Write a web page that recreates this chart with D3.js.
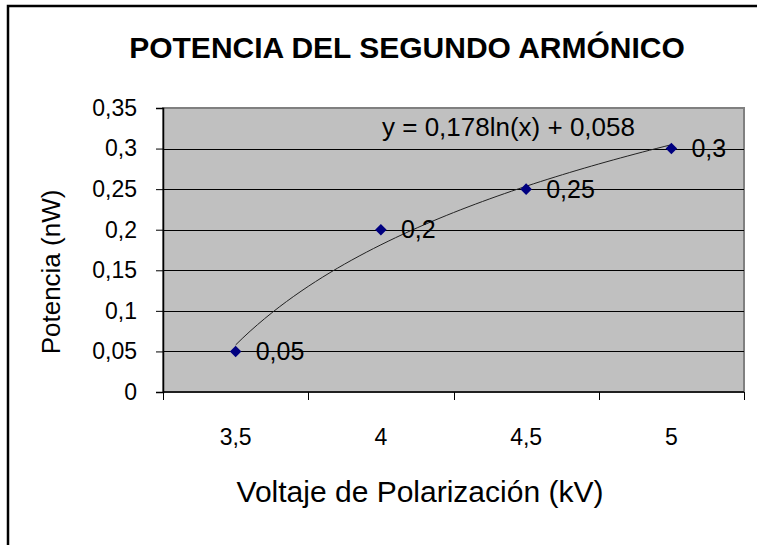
<!DOCTYPE html>
<html>
<head>
<meta charset="utf-8">
<script src="https://cdn.jsdelivr.net/npm/d3@7"></script>
<style>
  html, body { margin: 0; background: #fff; overflow: hidden; }
  svg { display: block; }
  text { font-family: "Liberation Sans", Arial, sans-serif; fill: #000; }
</style>
</head>
<body>
<div id="chart"></div>
<script>
var categories = ['3,5', '4', '4,5', '5'];
var potencia = [0.05, 0.2, 0.25, 0.3];
var yTicks = [0, 0.05, 0.1, 0.15, 0.2, 0.25, 0.3, 0.35];
var trendA = 0.178, trendB = 0.058;

var W = 757, H = 545;
var plot = {left: 163, right: 744, top: 108, bottom: 392};

var svg = d3.select('#chart').append('svg')
    .attr('width', W)
    .attr('height', H);

// chart frame: only the top and left edges fall inside the picture
svg.append('path')
  .attr('d', 'M8,' + H + 'V6H' + W)
  .attr('fill', 'none')
  .attr('stroke', '#000')
  .attr('stroke-width', 2.5);

var x = d3.scaleBand().domain(categories).range([plot.left, plot.right]);
var y = d3.scaleLinear().domain([0, 0.35]).range([plot.bottom, plot.top]);
var fmt = function (v) { return String(v).replace('.', ','); };

// plot area
svg.append('rect')
  .attr('x', plot.left).attr('y', plot.top)
  .attr('width', plot.right - plot.left)
  .attr('height', plot.bottom - plot.top)
  .attr('fill', '#c0c0c0')
  .attr('stroke', '#808080')
  .attr('stroke-width', 2);

// gridlines
svg.append('g')
  .selectAll('line')
  .data(yTicks.slice(1, -1))
  .enter().append('line')
  .attr('x1', plot.left).attr('x2', plot.right)
  .attr('y1', function (d) { return Math.round(y(d)) + 0.5; })
  .attr('y2', function (d) { return Math.round(y(d)) + 0.5; })
  .attr('stroke', '#000')
  .attr('stroke-width', 1);

// Y axis
var yAxis = d3.axisLeft(y).tickValues(yTicks).tickSize(7).tickPadding(19).tickFormat(fmt);
var gy = svg.append('g')
  .attr('transform', 'translate(' + plot.left + ',0)')
  .call(yAxis);
gy.select('.domain').attr('stroke', '#000').attr('stroke-width', 1.5);
gy.selectAll('.tick line').attr('stroke', '#000');
gy.selectAll('text').style('font-size', '23px').attr('fill', '#000');

// X axis: ticks between categories, labels centred
var gx = svg.append('g')
  .attr('transform', 'translate(0,' + plot.bottom + ')');
gx.append('line')
  .attr('x1', plot.left).attr('x2', plot.right)
  .attr('stroke', '#000').attr('stroke-width', 1.5);
var edges = categories.map(function (c) { return x(c); }).concat([plot.right]);
gx.selectAll('.xt')
  .data(edges)
  .enter().append('line')
  .attr('class', 'xt')
  .attr('x1', function (d) { return Math.round(d) + 0.5; })
  .attr('x2', function (d) { return Math.round(d) + 0.5; })
  .attr('y1', 0).attr('y2', 8)
  .attr('stroke', '#000');
gx.selectAll('.xl')
  .data(categories)
  .enter().append('text')
  .attr('class', 'xl')
  .attr('x', function (d) { return x(d) + x.bandwidth() / 2; })
  .attr('y', 53)
  .attr('text-anchor', 'middle')
  .style('font-size', '23px')
  .text(function (d) { return d; });

// logarithmic trendline, x = category index (1..n)
var trend = d3.range(1, categories.length + 0.001, 0.05).map(function (i) {
  return [x(categories[0]) + x.bandwidth() / 2 + (i - 1) * x.step(), trendA * Math.log(i) + trendB];
});
svg.append('path')
  .datum(trend)
  .attr('fill', 'none')
  .attr('stroke', '#222')
  .attr('stroke-width', 1)
  .attr('d', d3.line()
    .x(function (d) { return d[0]; })
    .y(function (d) { return y(d[1]); }));

// points
var pts = svg.append('g')
  .selectAll('g')
  .data(potencia)
  .enter().append('g')
  .attr('transform', function (d, i) {
    return 'translate(' + (x(categories[i]) + x.bandwidth() / 2) + ',' + y(d) + ')';
  });
pts.append('path')
  .attr('d', d3.symbol().type(d3.symbolDiamond2).size(85))
  .attr('fill', '#000080');
pts.append('text')
  .attr('x', 20)
  .attr('dy', '0.35em')
  .style('font-size', '25px')
  .text(function (d) { return fmt(d); });

// trendline equation
svg.append('text')
  .attr('x', 382).attr('y', 136)
  .style('font-size', '26px')
  .text('y = 0,178ln(x) + 0,058');

// titles
svg.append('text')
  .attr('x', 407).attr('y', 58)
  .attr('text-anchor', 'middle')
  .style('font-size', '30px')
  .style('font-weight', 'bold')
  .text('POTENCIA DEL SEGUNDO ARMÓNICO');

svg.append('text')
  .attr('x', 420).attr('y', 502)
  .attr('text-anchor', 'middle')
  .style('font-size', '30px')
  .text('Voltaje de Polarización (kV)');

svg.append('text')
  .attr('transform', 'translate(60,272) rotate(-90)')
  .attr('text-anchor', 'middle')
  .style('font-size', '26px')
  .text('Potencia (nW)');
</script>
</body>
</html>
